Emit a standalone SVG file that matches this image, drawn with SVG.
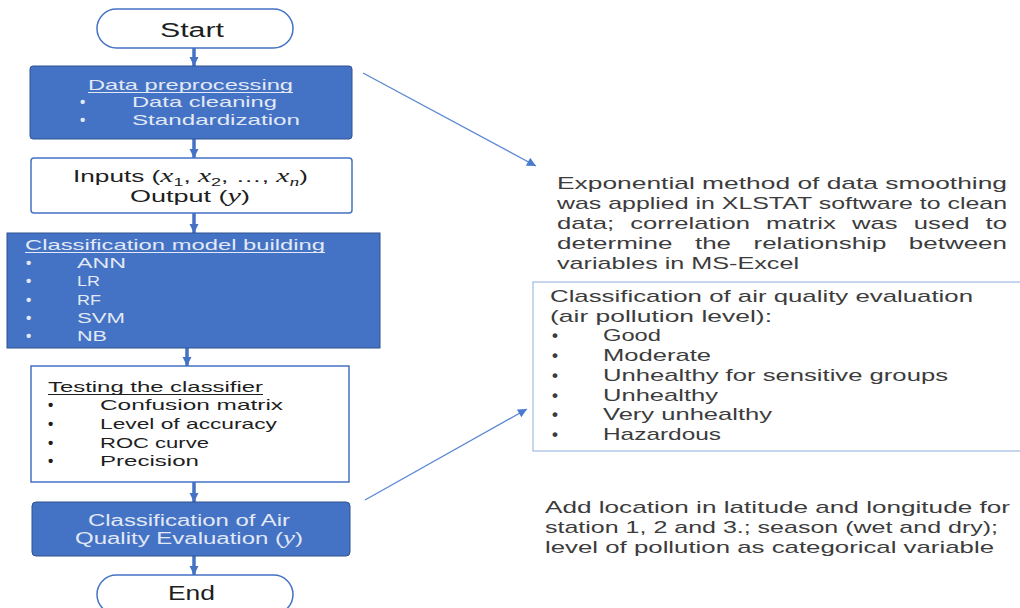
<svg xmlns="http://www.w3.org/2000/svg" width="1020" height="608" viewBox="0 0 1020 608">
<style>
text{font-family:"Liberation Sans","Open Sans",sans-serif;}
.dk{fill:#1e1e1e;}
.lt{fill:#e2e9f6;}
.gr{fill:#3c3c3c;}
.m{font-family:"Liberation Serif","DejaVu Serif",serif;font-style:italic;}
.f20{font-size:20px;}
.f16{font-size:16px;}
.f15{font-size:15px;}
.f17{font-size:17px;}
.b{font-weight:bold;}
.blue{fill:#4472C4;stroke:#2F528F;stroke-width:1;}
.wht{fill:#ffffff;stroke:#4472C4;stroke-width:1.5;}
.flow{stroke:#4472C4;stroke-width:3.5;fill:none;}
.ann{stroke:#5A87D3;stroke-width:1.3;fill:none;}
.ul{stroke-width:1;}
</style>
<defs>
<marker id="ah" viewBox="0 0 10 10" refX="10" refY="5" markerWidth="9" markerHeight="15" markerUnits="userSpaceOnUse" orient="auto">
<path d="M0,0 L10,5 L0,10 z" fill="#4472C4"/>
</marker>
<marker id="ah2" viewBox="0 0 10 10" refX="10" refY="5" markerWidth="13" markerHeight="9" markerUnits="userSpaceOnUse" orient="auto">
<path d="M0,0 L10,5 L0,10 z" fill="#4A7BD0"/>
</marker>
</defs>
<rect width="1020" height="608" fill="#ffffff"/>

<g id="connectors">
<line class="flow" x1="194" y1="48" x2="194" y2="66" marker-end="url(#ah)"/>
<line class="flow" x1="194" y1="139" x2="194" y2="158" marker-end="url(#ah)"/>
<line class="flow" x1="194" y1="213" x2="194" y2="233" marker-end="url(#ah)"/>
<line class="flow" x1="187" y1="348" x2="187" y2="366" marker-end="url(#ah)"/>
<line class="flow" x1="194" y1="482" x2="194" y2="502" marker-end="url(#ah)"/>
<line class="flow" x1="194" y1="556" x2="194" y2="575" marker-end="url(#ah)"/>
<line class="ann" x1="363" y1="73" x2="536" y2="166" marker-end="url(#ah2)"/>
<line class="ann" x1="365" y1="500" x2="527" y2="409" marker-end="url(#ah2)"/>
</g>

<g id="start">
<rect class="wht" x="97" y="9" width="196" height="39" rx="19.5"/>
<text class="dk f20" x="160" y="37" textLength="64" lengthAdjust="spacingAndGlyphs">Start</text>
</g>

<g id="preprocessing">
<rect class="blue" x="30" y="66" width="322" height="73" rx="3"/>
<text class="lt f15" x="88" y="90" textLength="205" lengthAdjust="spacingAndGlyphs">Data preprocessing</text>
<line class="ul" x1="88" y1="92.5" x2="293" y2="92.5" stroke="#e2e9f6"/>
<text class="lt f15 b" x="80" y="107">•</text>
<text class="lt f15" x="132" y="107" textLength="145" lengthAdjust="spacingAndGlyphs">Data cleaning</text>
<text class="lt f15 b" x="80" y="125">•</text>
<text class="lt f15" x="132" y="125" textLength="168" lengthAdjust="spacingAndGlyphs">Standardization</text>
</g>

<g id="inputs">
<rect class="wht" x="31" y="158" width="321" height="55" rx="3"/>
<text class="dk f16" x="73" y="182" textLength="235" lengthAdjust="spacingAndGlyphs">Inputs (<tspan class="m" font-size="18">x</tspan><tspan font-size="11" dy="4">1</tspan><tspan dy="-4">, </tspan><tspan class="m" font-size="18">x</tspan><tspan font-size="11" dy="4">2</tspan><tspan dy="-4">, …, </tspan><tspan class="m" font-size="18">x</tspan><tspan class="m" font-size="12" dy="4">n</tspan><tspan dy="-4">)</tspan></text>
<text class="dk f16" x="130" y="202" textLength="120" lengthAdjust="spacingAndGlyphs">Output (<tspan class="m" font-size="18">y</tspan>)</text>
</g>

<g id="model-building">
<rect class="blue" x="7" y="233" width="373" height="115"/>
<text class="lt f15" x="25" y="250" textLength="300" lengthAdjust="spacingAndGlyphs">Classification model building</text>
<line class="ul" x1="25" y1="252.5" x2="325" y2="252.5" stroke="#e2e9f6"/>
<text class="lt f15 b" x="26" y="268">•</text>
<text class="lt f15" x="77" y="268" textLength="49" lengthAdjust="spacingAndGlyphs">ANN</text>
<text class="lt f15 b" x="26" y="286">•</text>
<text class="lt f15" x="77" y="286" textLength="23" lengthAdjust="spacingAndGlyphs">LR</text>
<text class="lt f15 b" x="26" y="304.5">•</text>
<text class="lt f15" x="77" y="304.5" textLength="24" lengthAdjust="spacingAndGlyphs">RF</text>
<text class="lt f15 b" x="26" y="323">•</text>
<text class="lt f15" x="77" y="323" textLength="48" lengthAdjust="spacingAndGlyphs">SVM</text>
<text class="lt f15 b" x="26" y="341">•</text>
<text class="lt f15" x="77" y="341" textLength="30" lengthAdjust="spacingAndGlyphs">NB</text>
</g>

<g id="testing">
<rect class="wht" x="31" y="366" width="318" height="116"/>
<text class="dk f15" x="48" y="392" textLength="215" lengthAdjust="spacingAndGlyphs">Testing the classifier</text>
<line class="ul" x1="48" y1="394.5" x2="263" y2="394.5" stroke="#1e1e1e"/>
<text class="dk f15 b" x="48" y="410">•</text>
<text class="dk f15" x="100" y="410" textLength="183" lengthAdjust="spacingAndGlyphs">Confusion matrix</text>
<text class="dk f15 b" x="48" y="428.5">•</text>
<text class="dk f15" x="100" y="428.5" textLength="177" lengthAdjust="spacingAndGlyphs">Level of accuracy</text>
<text class="dk f15 b" x="48" y="447.5">•</text>
<text class="dk f15" x="100" y="447.5" textLength="109" lengthAdjust="spacingAndGlyphs">ROC curve</text>
<text class="dk f15 b" x="48" y="465.5">•</text>
<text class="dk f15" x="100" y="465.5" textLength="99" lengthAdjust="spacingAndGlyphs">Precision</text>
</g>

<g id="evaluation">
<rect class="blue" x="32" y="502" width="318" height="54" rx="4"/>
<text class="lt f16" x="88" y="525.5" textLength="202" lengthAdjust="spacingAndGlyphs">Classification of Air</text>
<text class="lt f16" x="75" y="543.5" textLength="228" lengthAdjust="spacingAndGlyphs">Quality Evaluation (<tspan class="m" font-size="18">y</tspan>)</text>
</g>

<g id="end">
<rect class="wht" x="97" y="575" width="196" height="39" rx="19.5"/>
<text class="dk f20" x="168" y="600" textLength="47" lengthAdjust="spacingAndGlyphs">End</text>
</g>

<g id="note-smoothing">
<text class="gr f17" x="557" y="188.5" textLength="450" lengthAdjust="spacingAndGlyphs">Exponential method of data smoothing</text>
<text class="gr f17" x="557" y="208.5" textLength="450" lengthAdjust="spacingAndGlyphs">was applied in XLSTAT software to clean</text>
<text class="gr f17" x="557" y="228.5" textLength="450" lengthAdjust="spacingAndGlyphs" word-spacing="6">data; correlation matrix was used to</text>
<text class="gr f17" x="557" y="249" textLength="450" lengthAdjust="spacingAndGlyphs" word-spacing="10">determine the relationship between</text>
<text class="gr f17" x="557" y="269" textLength="242" lengthAdjust="spacingAndGlyphs">variables in MS-Excel</text>
</g>

<g id="note-classes">
<rect x="533" y="282" width="500" height="169" fill="#ffffff" stroke="#A9BFE6" stroke-width="1.3"/>
<text class="gr f17" x="550" y="302" textLength="423" lengthAdjust="spacingAndGlyphs">Classification of air quality evaluation</text>
<text class="gr f17" x="550" y="322" textLength="222" lengthAdjust="spacingAndGlyphs">(air pollution level):</text>
<text class="gr f17 b" x="552" y="341">•</text>
<text class="gr f17" x="603" y="341" textLength="58" lengthAdjust="spacingAndGlyphs">Good</text>
<text class="gr f17 b" x="552" y="361">•</text>
<text class="gr f17" x="603" y="361" textLength="108" lengthAdjust="spacingAndGlyphs">Moderate</text>
<text class="gr f17 b" x="552" y="380.5">•</text>
<text class="gr f17" x="603" y="380.5" textLength="345" lengthAdjust="spacingAndGlyphs">Unhealthy for sensitive groups</text>
<text class="gr f17 b" x="552" y="400.5">•</text>
<text class="gr f17" x="603" y="400.5" textLength="115" lengthAdjust="spacingAndGlyphs">Unhealthy</text>
<text class="gr f17 b" x="552" y="420">•</text>
<text class="gr f17" x="603" y="420" textLength="169" lengthAdjust="spacingAndGlyphs">Very unhealthy</text>
<text class="gr f17 b" x="552" y="439.5">•</text>
<text class="gr f17" x="603" y="439.5" textLength="118" lengthAdjust="spacingAndGlyphs">Hazardous</text>
</g>

<g id="note-variables">
<text class="gr f17" x="545" y="512.5" textLength="465" lengthAdjust="spacingAndGlyphs">Add location in latitude and longitude for</text>
<text class="gr f17" x="545" y="533" textLength="453" lengthAdjust="spacingAndGlyphs">station 1, 2 and 3.; season (wet and dry);</text>
<text class="gr f17" x="545" y="553" textLength="449" lengthAdjust="spacingAndGlyphs">level of pollution as categorical variable</text>
</g>
</svg>
